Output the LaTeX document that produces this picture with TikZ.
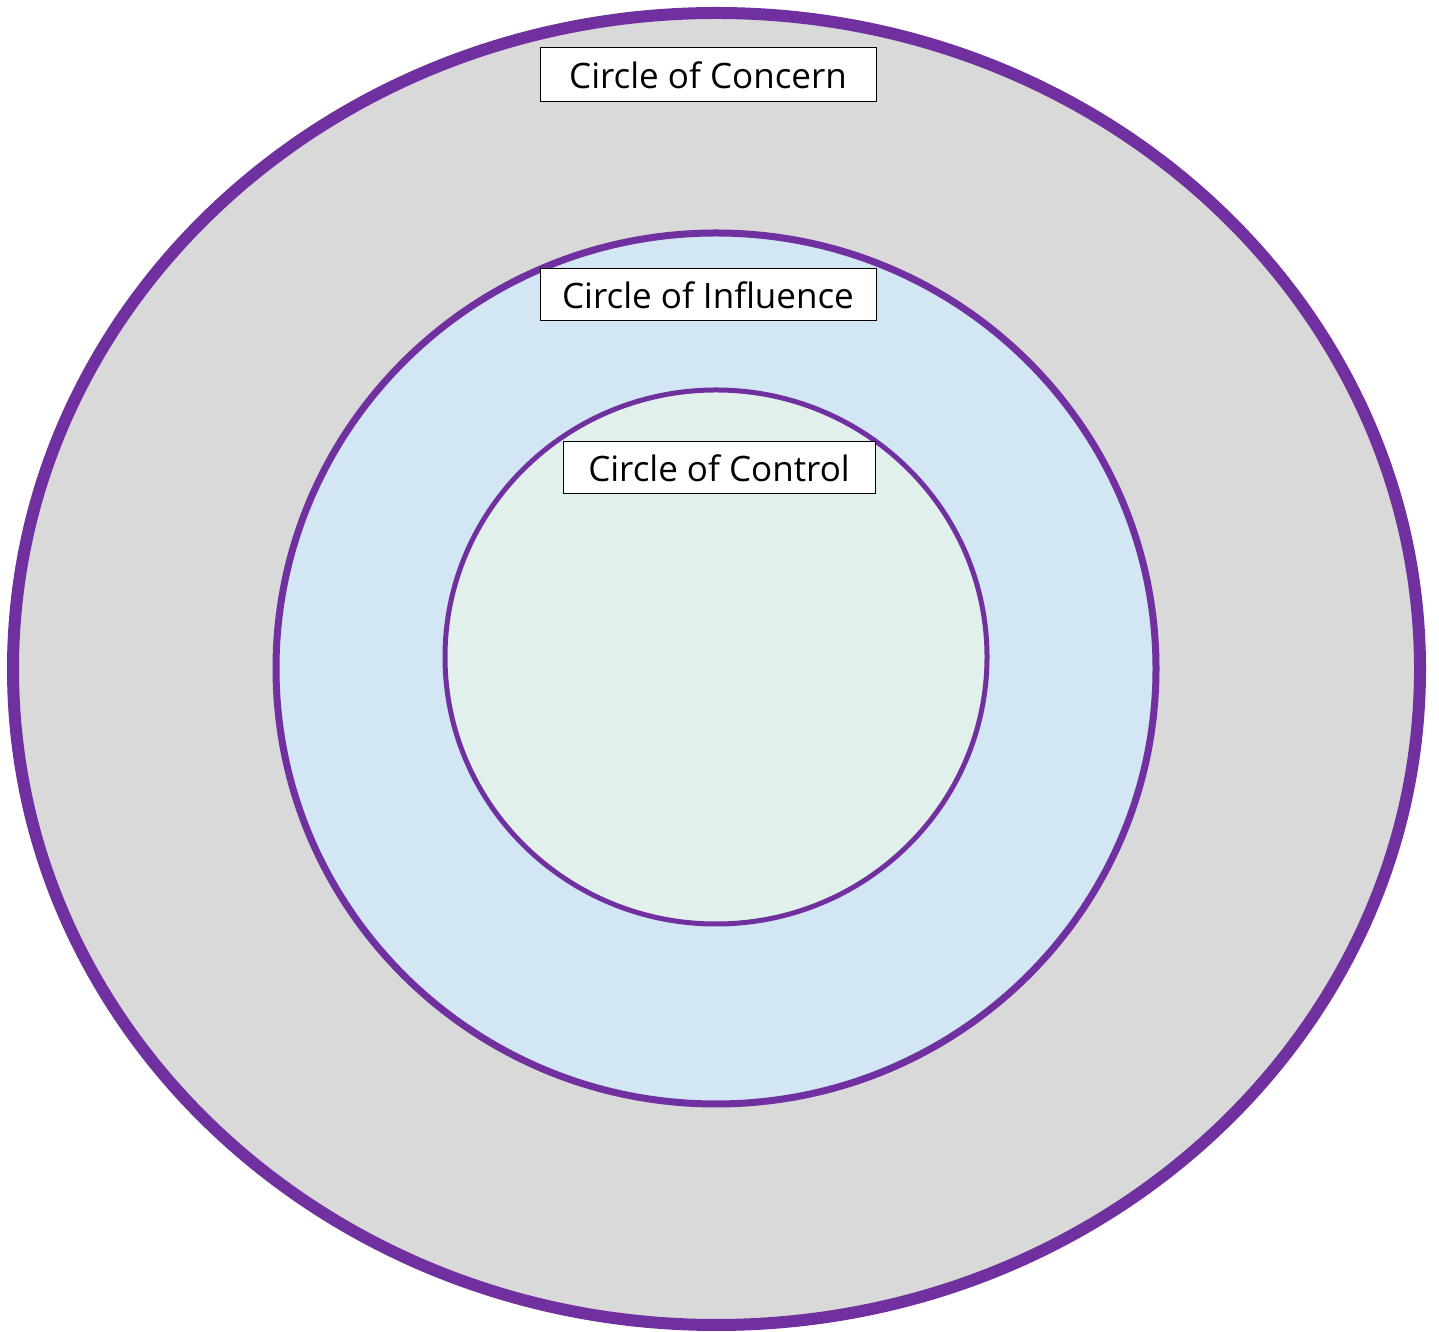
\documentclass[tikz,border=0pt]{standalone}
\usepackage{fontspec}
\setmainfont{Open Sans}
\usepackage{tikz}
\usetikzlibrary{positioning}
\definecolor{ringpurple}{HTML}{7030A0}
\definecolor{concernfill}{HTML}{D9D9D9}
\definecolor{influencefill}{HTML}{D2E6F4}
\definecolor{controlfill}{HTML}{E2F0EC}

\begin{document}
\begin{tikzpicture}[
  x=0.5pt, y=0.5pt,
  ring/.style={draw=ringpurple},
  label box/.style={draw, fill=white, line width=0.5pt, inner sep=0pt, minimum height=26pt, font=\fontsize{17.5}{20}\selectfont}
]
  \useasboundingbox (0,0) rectangle (1439,1332);

  % the three rings
  \draw[ring, fill=concernfill, line width=6pt] (716.5,663) ellipse [x radius=703.5, y radius=656];
  \draw[ring, fill=influencefill, line width=3.5pt] (716,663.5) ellipse [x radius=440, y radius=435.5];
  \draw[ring, fill=controlfill, line width=2.5pt] (716,675) ellipse [x radius=271, y radius=267];

  % labels
  \node[label box, minimum width=168pt, minimum height=27pt] (concern) at (708,1257) {Circle of Concern};
  \node[label box, minimum width=168pt] (influence) at (708,1037) {Circle of Influence};
  \node[label box, minimum width=156pt] (control) at (719,864) {Circle of Control};
\end{tikzpicture}
\end{document}
